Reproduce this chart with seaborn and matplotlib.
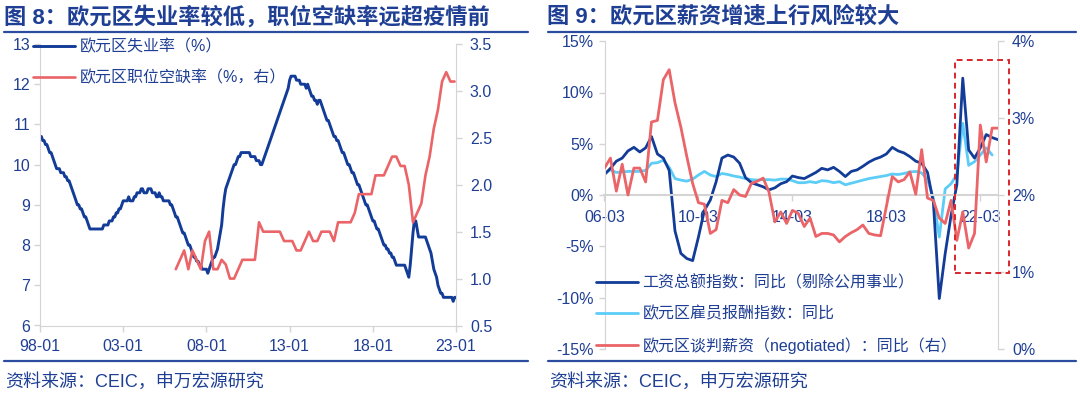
import matplotlib

matplotlib.use("Agg")
import matplotlib.pyplot as plt
import matplotlib.dates as mdates
import matplotlib.patches as patches
from matplotlib.lines import Line2D
from matplotlib.ticker import FuncFormatter
import pandas as pd
import seaborn as sns

sns.set_style("white")
plt.rcParams["font.family"] = ["Liberation Sans", "Noto Sans CJK SC"]
plt.rcParams["axes.unicode_minus"] = False

# ---- data: figure 8 ----
unemp_start = "1998-01-01"
unemp_rate = [
    10.7, 10.7, 10.6, 10.6, 10.5, 10.5, 10.4, 10.3, 10.3, 10.2, 10.1, 10.0,
    9.9, 9.9, 9.9, 9.8, 9.8, 9.8, 9.7, 9.7, 9.6, 9.6, 9.5, 9.4,
    9.3, 9.2, 9.1, 9.0, 9.0, 8.9, 8.9, 8.8, 8.7, 8.7, 8.6, 8.5,
    8.4, 8.4, 8.4, 8.4, 8.4, 8.4, 8.4, 8.4, 8.4, 8.4, 8.5, 8.5,
    8.5, 8.5, 8.6, 8.6, 8.6, 8.7, 8.7, 8.8, 8.8, 8.9, 8.9, 9.0,
    9.1, 9.1, 9.1, 9.1, 9.2, 9.1, 9.1, 9.1, 9.2, 9.2, 9.3, 9.3,
    9.3, 9.4, 9.4, 9.3, 9.3, 9.3, 9.4, 9.4, 9.4, 9.3, 9.3, 9.3,
    9.2, 9.2, 9.3, 9.2, 9.2, 9.1, 9.1, 9.1, 9.1, 9.1, 9.0, 9.0,
    8.9, 8.8, 8.7, 8.7, 8.6, 8.5, 8.4, 8.3, 8.3, 8.2, 8.1, 8.0,
    8.0, 7.9, 7.8, 7.7, 7.7, 7.6, 7.6, 7.5, 7.5, 7.4, 7.4, 7.4,
    7.4, 7.3, 7.4, 7.5, 7.6, 7.7, 7.7, 7.8, 7.9, 8.1, 8.3, 8.5,
    8.9, 9.2, 9.4, 9.5, 9.6, 9.7, 9.8, 9.9, 10.0, 10.0, 10.1, 10.2,
    10.2, 10.3, 10.3, 10.3, 10.3, 10.3, 10.3, 10.3, 10.2, 10.2, 10.2, 10.2,
    10.1, 10.1, 10.1, 10.0, 10.0, 10.1, 10.2, 10.3, 10.4, 10.5, 10.6, 10.7,
    10.8, 10.9, 11.0, 11.1, 11.2, 11.3, 11.4, 11.5, 11.6, 11.7, 11.8, 11.9,
    12.1, 12.2, 12.2, 12.2, 12.2, 12.1, 12.1, 12.1, 12.0, 12.0, 12.0, 12.0,
    11.9, 12.0, 11.9, 11.8, 11.7, 11.7, 11.6, 11.6, 11.5, 11.6, 11.6, 11.5,
    11.4, 11.3, 11.2, 11.1, 11.1, 11.0, 10.9, 10.8, 10.7, 10.7, 10.6, 10.6,
    10.5, 10.4, 10.3, 10.3, 10.2, 10.1, 10.0, 10.0, 9.9, 9.8, 9.8, 9.7,
    9.6, 9.5, 9.5, 9.4, 9.3, 9.2, 9.1, 9.0, 9.0, 8.9, 8.8, 8.7,
    8.6, 8.6, 8.5, 8.4, 8.4, 8.3, 8.2, 8.1, 8.0, 8.0, 7.9, 7.9,
    7.8, 7.8, 7.7, 7.7, 7.6, 7.5, 7.5, 7.5, 7.5, 7.5, 7.5, 7.5,
    7.4, 7.3, 7.2, 7.5, 7.9, 8.3, 8.6, 8.6, 8.4, 8.2, 8.2, 8.2,
    8.2, 8.2, 8.2, 8.1, 8.0, 7.9, 7.8, 7.6, 7.4, 7.3, 7.2, 7.0,
    6.9, 6.8, 6.8, 6.7, 6.7, 6.7, 6.7, 6.7, 6.7, 6.7, 6.6, 6.7,
    6.7,
]
vacancy_start = "2006-03-01"
vacancy_rate = [
    1.1, 1.2, 1.3, 1.1,
    1.3, 1.2, 1.1, 1.4,
    1.5, 1.1, 1.1, 1.2,
    1.15, 1.0, 1.0, 1.1,
    1.2, 1.2, 1.2, 1.2,
    1.6, 1.5, 1.5, 1.5,
    1.5, 1.5, 1.4, 1.4,
    1.4, 1.3, 1.3, 1.4,
    1.5, 1.4, 1.4, 1.5,
    1.5, 1.5, 1.4, 1.6,
    1.6, 1.6, 1.6, 1.7,
    1.9, 1.9, 1.9, 1.9,
    2.1, 2.1, 2.1, 2.2,
    2.3, 2.3, 2.2, 2.2,
    2.0, 1.6, 1.7, 1.8,
    2.1, 2.3, 2.6, 2.8,
    3.1, 3.2, 3.1, 3.1,
]
left_ticks = ["1998-01-01", "2003-01-01", "2008-01-01", "2013-01-01", "2018-01-01", "2023-01-01"]

# ---- data: figure 9 (quarterly, from 2006-03) ----
wage_start = "2006-03-01"
wage_total = [
    2.0, 2.6, 3.3, 3.6,
    4.3, 4.65, 4.2, 4.6,
    5.7, 4.0, 3.6, 2.4,
    -3.5, -5.7, -6.2, -6.4,
    -4.1, -1.5, -0.5, 1.3,
    3.6, 3.9, 3.7, 3.1,
    1.7, 1.2, 1.0, 0.8,
    0.5, 0.7, 1.1, 1.3,
    1.85, 1.7, 1.6, 1.9,
    2.2, 2.6, 2.45, 2.7,
    2.3, 1.8, 2.3, 2.45,
    2.8, 3.2, 3.5, 3.7,
    4.0, 4.65, 4.3, 4.1,
    3.75, 3.3, 3.1, 2.2,
    -0.7, -10.1, -5.7, -2.0,
    1.0, 11.4, 4.4, 3.6,
    4.6, 5.9, 5.6, 5.4,
]
compensation = [
    2.1, 2.45, 2.2, 2.25,
    2.3, 2.3, 2.3, 2.4,
    3.1, 3.15, 3.4, 2.7,
    1.6, 1.45, 1.35, 1.55,
    1.95, 2.3, 1.95, 1.8,
    2.1, 2.0, 1.85, 1.75,
    1.6, 1.5, 1.45, 1.5,
    1.5, 1.45, 1.55, 1.55,
    1.4, 1.2, 1.2, 1.3,
    1.2, 1.4, 1.35, 1.2,
    1.3, 1.0, 1.15, 1.3,
    1.45, 1.6, 1.7, 1.8,
    1.9, 2.05, 2.0, 2.1,
    2.25, 2.3, 2.15, 1.5,
    -0.3, -4.1, 0.6, 1.1,
    2.0, 7.0, 2.9, 3.25,
    3.9, 4.6, 3.9,
]
negotiated = [
    2.35, 2.48, 2.05, 2.4,
    2.0, 2.35, 2.35, 2.17,
    2.95, 2.97, 3.5, 3.63,
    3.2, 2.88, 2.5, 2.15,
    1.9, 1.88, 1.5, 1.55,
    1.93, 1.9, 2.07, 2.0,
    1.98, 2.15, 2.18, 2.22,
    2.04, 1.65, 1.78, 1.63,
    1.8, 1.76, 1.59, 1.7,
    1.46, 1.5, 1.5, 1.48,
    1.39, 1.46, 1.51, 1.55,
    1.61, 1.5, 1.48, 1.47,
    1.85, 2.24, 2.17, 2.2,
    2.3, 2.01, 2.59, 1.96,
    1.93, 1.7, 1.63, 1.93,
    1.41, 1.78, 1.31, 1.5,
    2.91, 2.43, 2.87, 2.87,
]
right_ticks = ["2006-03-01", "2010-03-01", "2014-03-01", "2018-03-01", "2022-03-01"]

NAVY = "#1F3F94"
LINE_BLUE = "#123C97"
RED = "#EA6468"
SKY = "#5CCDF7"
GRAY = "#D4D4D4"
BOX_RED = "#D9262B"

W, H = 1080, 398
fig = plt.figure(figsize=(W / 100, H / 100), dpi=100)


def fx(px):
    return px / W


def fy(py):
    return 1 - py / H


def style_axis(ax):
    for side in ["top", "left", "right", "bottom"]:
        ax.spines[side].set_visible(False)
    ax.tick_params(colors=GRAY, labelcolor=NAVY, labelsize=11.5, length=4, width=1)
    ax.set_xlabel("")
    ax.set_ylabel("")


# ================= figure 8 =================
ax1 = fig.add_axes([fx(40), fy(325.5), fx(456 - 40), (325.5 - 44) / H])
ax1b = ax1.twinx()

u = pd.DataFrame({"date": pd.date_range(unemp_start, periods=len(unemp_rate), freq="MS"),
                  "v": unemp_rate})
vac = pd.DataFrame({"date": pd.date_range(vacancy_start, periods=len(vacancy_rate), freq="3MS"),
                    "v": vacancy_rate})
sns.lineplot(data=u, x="date", y="v", ax=ax1, color=LINE_BLUE, lw=2.1, legend=False)
sns.lineplot(data=vac, x="date", y="v", ax=ax1b, color=RED, lw=1.9, legend=False)

style_axis(ax1)
style_axis(ax1b)
for side in ["left", "bottom"]:
    ax1.spines[side].set_visible(True)
    ax1.spines[side].set_color(GRAY)
ax1b.spines["right"].set_visible(True)
ax1b.spines["right"].set_color(GRAY)
ax1.tick_params(bottom=True, left=True, pad=3)
ax1.tick_params(axis="x", pad=6)
ax1b.tick_params(right=True, left=False, bottom=False, pad=6)

ax1.set_xlim(pd.Timestamp(left_ticks[0]), pd.Timestamp(left_ticks[-1]))
ax1.set_ylim(6, 13)
ax1b.set_ylim(0.5, 3.5)
ax1.set_xticks(pd.to_datetime(left_ticks))
ax1.xaxis.set_major_formatter(mdates.DateFormatter("%y-%m"))
ax1.set_yticks(range(6, 14))
ax1b.set_yticks([0.5, 1.0, 1.5, 2.0, 2.5, 3.0, 3.5])
ax1b.yaxis.set_major_formatter(FuncFormatter(lambda v, p: f"{v:.1f}"))

leg1 = fig.legend([ax1.get_lines()[0], ax1b.get_lines()[0]],
                  ["欧元区失业率（%）", "欧元区职位空缺率（%，右）"],
                  loc="upper left", bbox_to_anchor=(fx(33), fy(39)), frameon=False,
                  fontsize=11.5, handlelength=2.6, handletextpad=0.3,
                  labelspacing=0.98, borderpad=0, borderaxespad=0)
for t in leg1.get_texts():
    t.set_color(NAVY)

# ================= figure 9 =================
ax2 = fig.add_axes([fx(604.5), fy(348.75), fx(998 - 604.5), (348.75 - 41.25) / H])
ax2b = ax2.twinx()

q_dates = pd.date_range(wage_start, periods=len(wage_total), freq="3MS")
w1 = pd.DataFrame({"date": q_dates, "v": wage_total})
w2 = pd.DataFrame({"date": q_dates[:len(compensation)], "v": compensation})
w3 = pd.DataFrame({"date": q_dates[:len(negotiated)], "v": negotiated})
sns.lineplot(data=w2, x="date", y="v", ax=ax2, color=SKY, lw=2.0, legend=False)
sns.lineplot(data=w1, x="date", y="v", ax=ax2, color=LINE_BLUE, lw=2.0, legend=False)
sns.lineplot(data=w3, x="date", y="v", ax=ax2b, color=RED, lw=2.0, legend=False)

style_axis(ax2)
style_axis(ax2b)
ax2.spines["left"].set_visible(True)
ax2.spines["left"].set_color(GRAY)
ax2.spines["bottom"].set_visible(True)
ax2.spines["bottom"].set_color(GRAY)
ax2.spines["bottom"].set_linewidth(1.5)
ax2.spines["bottom"].set_position(("data", 0))
ax2b.spines["right"].set_visible(True)
ax2b.spines["right"].set_color(GRAY)
ax2.tick_params(bottom=True, left=True)
ax2.tick_params(axis="x", pad=7)
ax2b.tick_params(right=True, left=False, bottom=False, pad=6)

ax2.set_xlim(q_dates[0], q_dates[-1])
ax2.set_ylim(-15, 15)
ax2b.set_ylim(0, 4)
ax2.set_xticks(pd.to_datetime(right_ticks))
ax2.xaxis.set_major_formatter(mdates.DateFormatter("%y-%m"))
ax2.set_yticks(range(-15, 16, 5))
ax2.yaxis.set_major_formatter(FuncFormatter(lambda v, p: f"{v:.0f}%"))
ax2b.set_yticks([0, 1, 2, 3, 4])
ax2b.yaxis.set_major_formatter(FuncFormatter(lambda v, p: f"{v:.0f}%"))

# highlight box around the post-pandemic period
x0 = mdates.date2num(pd.Timestamp("2021-01-25"))
x1 = mdates.date2num(pd.Timestamp("2023-05-25"))
box = patches.Rectangle((x0, 0.98), x1 - x0, 3.75 - 0.98, fill=False,
                        edgecolor=BOX_RED, lw=1.4, ls=(0, (3, 2.2)), clip_on=False, zorder=5)
ax2b.add_patch(box)

lines2 = [ax2.get_lines()[1], ax2.get_lines()[0], ax2b.get_lines()[0]]
leg2 = fig.legend(lines2,
                  ["工资总额指数：同比（剔除公用事业）", "欧元区雇员报酬指数：同比",
                   "欧元区谈判薪资（negotiated）：同比（右）"],
                  loc="upper left", bbox_to_anchor=(fx(596), fy(275)), frameon=False,
                  fontsize=11.5, handlelength=2.6, handletextpad=0.3,
                  labelspacing=0.98, borderpad=0, borderaxespad=0)
for t in leg2.get_texts():
    t.set_color(NAVY)

# ================= titles, rules, sources =================
fig.text(fx(4), fy(17), "图 8：欧元区失业率较低，职位空缺率远超疫情前", fontsize=16,
         fontweight="bold", color=NAVY, va="center", ha="left")
fig.text(fx(547), fy(17), "图 9：欧元区薪资增速上行风险较大", fontsize=16,
         fontweight="bold", color=NAVY, va="center", ha="left")
for xa, xb in [(4, 528), (548, 1076)]:
    fig.add_artist(Line2D([fx(xa), fx(xb)], [fy(32), fy(32)], color="#2B4C9F", lw=1.6))
    fig.add_artist(Line2D([fx(xa), fx(xb)], [fy(361), fy(361)], color="#2B4C9F", lw=1.6))
fig.text(fx(5), fy(382), "资料来源：CEIC，申万宏源研究", fontsize=13, color=NAVY, va="center")
fig.text(fx(549), fy(382), "资料来源：CEIC，申万宏源研究", fontsize=13, color=NAVY, va="center")

fig.savefig("out.png", dpi=100)
